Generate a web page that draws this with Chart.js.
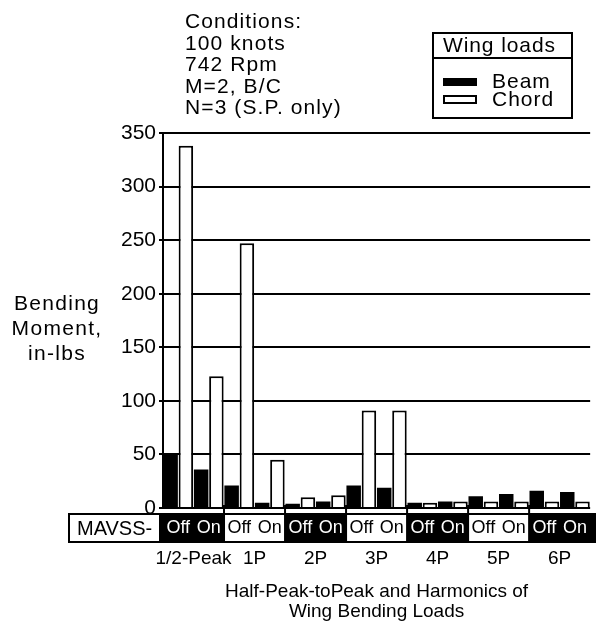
<!DOCTYPE html>
<html>
<head>
<meta charset="utf-8">
<script src="https://cdn.jsdelivr.net/npm/chart.js@4.4.1/dist/chart.umd.min.js"></script>
<style>
  html, body { margin: 0; padding: 0; background: #fff; }
  #wrap { width: 596px; height: 633px; }
</style>
</head>
<body>
<div id="wrap"><canvas id="chart" width="596" height="633"></canvas></div>
<script>
// chart values
const groups = ["1/2-Peak", "1P", "2P", "3P", "4P", "5P", "6P"];
const mavss = ["Off", "On"];
const beamOff  = [50, 21, 4, 21, 5, 11, 16];
const beamOn   = [36, 5, 6, 19, 6, 13, 15];
const chordOff = [338, 247, 10, 91, 5, 6, 6];
const chordOn  = [123, 45, 12, 91, 6, 6, 6];
const yMin = 0, yMax = 350, yStep = 50;

const conditions = ["Conditions:", "100 knots", "742 Rpm", "M=2, B/C", "N=3 (S.P. only)"];
const yTitle = ["Bending", "Moment,", "in-lbs"];
const xTitle = ["Half-Peak-toPeak and Harmonics of", "Wing Bending Loads"];

const FONT = "'Liberation Sans', Arial, Helvetica, sans-serif";
Chart.defaults.font.family = FONT;
Chart.defaults.color = "#000";

// one category per Off/On slot, two bars (beam, chord) in each
const labels = groups.flatMap(() => mavss);
const beam = groups.flatMap((g, i) => [beamOff[i], beamOn[i]]);
const chord = groups.flatMap((g, i) => [chordOff[i], chordOn[i]]);

function spacedText(ctx, text, x, y, spacing) {
  ctx.letterSpacing = spacing + "px";
  ctx.fillText(text, x, y);
  ctx.letterSpacing = "0px";
}

// black/white MAVSS row behind the Off/On tick labels
const rowBoxes = {
  id: "rowBoxes",
  beforeDraw(chart) {
    const ctx = chart.ctx;
    const x = chart.scales.x;
    const area = chart.chartArea;
    const top = area.bottom + 5, bottom = x.bottom;
    const slot = (x.right - x.left) / labels.length;
    ctx.save();
    ctx.fillStyle = "#000";
    ctx.fillRect(area.left - 3, top, chart.width - area.left + 3, bottom - top);
    groups.forEach((g, i) => {
      if (i % 2 === 1) {
        const l = x.getPixelForValue(i * 2) - slot / 2;
        ctx.fillStyle = "#fff";
        ctx.fillRect(l + 1, top + 2, slot * 2 - 2, bottom - top - 4);
      }
    });
    // MAVSS- label box
    ctx.fillStyle = "#fff";
    ctx.fillRect(68, top, area.left - 3 - 68, bottom - top);
    ctx.strokeStyle = "#000";
    ctx.lineWidth = 2;
    ctx.strokeRect(69, top + 1, area.left - 3 - 69, bottom - top - 2);
    ctx.fillStyle = "#000";
    ctx.font = "20px " + FONT;
    ctx.textBaseline = "middle";
    ctx.textAlign = "left";
    ctx.fillText("MAVSS-", 77, (top + bottom) / 2 + 1);
    ctx.restore();
  }
};

// conditions block, legend box, y title, group ticks
const extras = {
  id: "extras",
  afterDraw(chart) {
    const ctx = chart.ctx;
    const x = chart.scales.x;
    const area = chart.chartArea;
    ctx.save();
    ctx.fillStyle = "#000";
    ctx.strokeStyle = "#000";
    ctx.font = "21px " + FONT;
    ctx.textBaseline = "alphabetic";
    ctx.textAlign = "left";
    conditions.forEach((t, i) => spacedText(ctx, t, 185, 28 + i * 21.6, 1.1));

    // legend
    ctx.lineWidth = 2;
    ctx.strokeRect(433, 33, 139, 85);
    ctx.beginPath();
    ctx.moveTo(433, 58);
    ctx.lineTo(572, 58);
    ctx.stroke();
    spacedText(ctx, "Wing loads", 443, 52, 0.9);
    ctx.fillRect(443, 78, 34, 8);
    ctx.fillStyle = "#fff";
    ctx.fillRect(444, 96, 32, 7);
    ctx.strokeRect(444, 96, 32, 7);
    ctx.fillStyle = "#000";
    spacedText(ctx, "Beam", 492, 88, 1);
    spacedText(ctx, "Chord", 492, 106, 1);

    // y title
    ctx.textAlign = "center";
    yTitle.forEach((t, i) => spacedText(ctx, t, 57, 310 + i * 25, 1.3));

    // group boundary ticks under the baseline
    const slot = (x.right - x.left) / labels.length;
    ctx.lineWidth = 2;
    for (let i = 1; i < groups.length; i++) {
      const px = x.getPixelForValue(i * 2) - slot / 2;
      ctx.beginPath();
      ctx.moveTo(px, area.bottom - 3);
      ctx.lineTo(px, area.bottom + 5);
      ctx.stroke();
    }
    ctx.restore();
  }
};

new Chart(document.getElementById("chart"), {
  type: "bar",
  data: {
    labels: labels,
    datasets: [
      {
        label: "Beam",
        data: beam,
        backgroundColor: "#000",
        borderWidth: 0,
        xAxisID: "x"
      },
      {
        label: "Chord",
        data: chord,
        backgroundColor: "#fff",
        borderColor: "#000",
        borderWidth: 2,
        xAxisID: "x"
      }
    ]
  },
  options: {
    responsive: false,
    animation: false,
    layout: { padding: { top: 133, right: 3, left: 0, bottom: 0 } },
    plugins: {
      legend: { display: false },
      title: { display: false },
      tooltip: { enabled: false }
    },
    datasets: {
      bar: { categoryPercentage: 1.0, barPercentage: 0.95 }
    },
    scales: {
      x: {
        type: "category",
        position: "bottom",
        weight: 0,
        grid: { display: false, drawTicks: false },
        border: { display: false },
        ticks: {
          autoSkip: false,
          maxRotation: 0,
          padding: 9,
          font: { size: 18 },
          color: (c) => (Math.floor(c.index / 2) % 2 === 0 ? "#fff" : "#000")
        },
        afterFit: (s) => { s.height = 35; }
      },
      x2: {
        type: "category",
        position: "bottom",
        weight: 1,
        labels: groups,
        offset: true,
        grid: { display: false, drawTicks: false },
        border: { display: false },
        ticks: { autoSkip: false, maxRotation: 0, padding: 4, font: { size: 19 }, color: "#000" },
        title: {
          display: true,
          text: xTitle,
          font: { size: 19, lineHeight: 1.05 },
          color: "#000",
          padding: { top: 0, bottom: 11 }
        },
        afterFit: (s) => { s.height = 90; }
      },
      y: {
        min: yMin,
        max: yMax,
        ticks: { stepSize: yStep, padding: 3, font: { size: 21 }, color: "#000" },
        grid: { color: "#000", lineWidth: 2, tickLength: 4 },
        border: { display: true, color: "#000", width: 2 },
        afterFit: (s) => { s.width = 163; }
      }
    }
  },
  plugins: [rowBoxes, extras]
});
</script>
</body>
</html>
